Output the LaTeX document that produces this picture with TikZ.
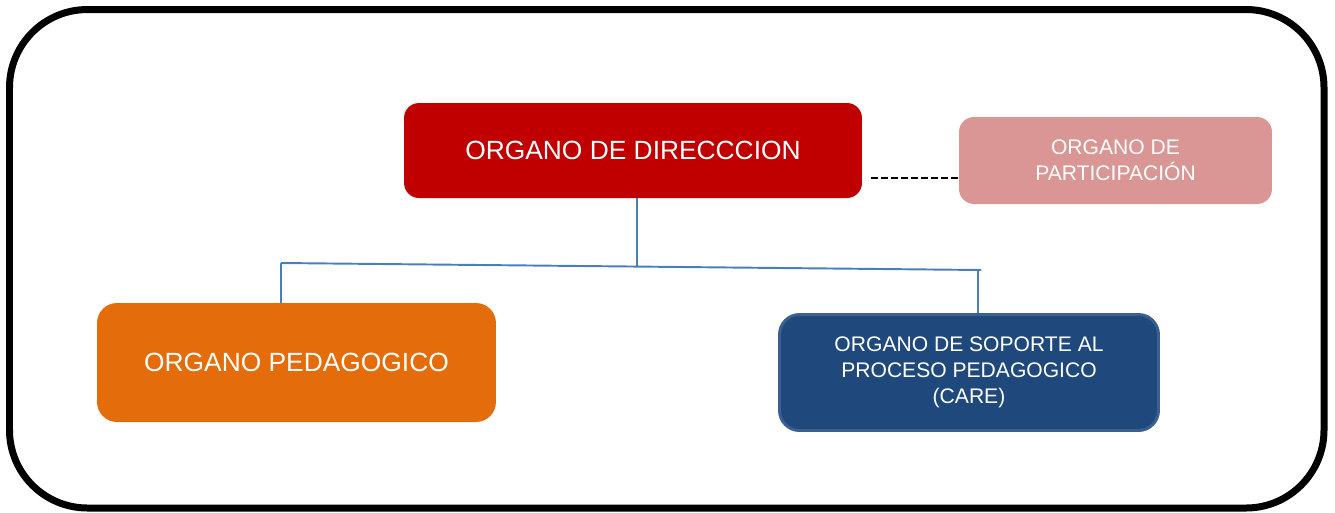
\documentclass[tikz,border=0pt]{standalone}
\usepackage{fontspec}
\setmainfont{Liberation Sans}
\usepackage{xcolor}
\usepackage{tikz}
\usetikzlibrary{positioning}
\definecolor{dirred}{RGB}{192, 0, 0}
\definecolor{partpink}{RGB}{217, 150, 148}
\definecolor{pedorange}{RGB}{228, 108, 10}
\definecolor{supblue}{RGB}{31, 73, 125}
\definecolor{supedge}{RGB}{59, 95, 143}
\definecolor{linkblue}{RGB}{74, 126, 187}

\begin{document}
\begin{tikzpicture}[x=0.02cm, y=-0.02cm,
    organ/.style={draw=none, text=white, align=center, inner sep=0pt},
    bigtext/.style={font=\fontsize{15}{18}\selectfont},
    smalltext/.style={font=\fontsize{12}{14.8}\selectfont},
    link/.style={draw=linkblue, line width=1.1pt}]
            \useasboundingbox (0,0) rectangle (1335,512);
            % Outer frame
            \draw[line width=0.14cm, rounded corners=1.56cm] (9.5,9.5) rectangle (1324,508);
            
            % Boxes
            \node[organ, bigtext, fill=dirred, rounded corners=0.3cm,
                  minimum width=9.16cm, minimum height=1.9cm] (dir) at (633,150.5) {ORGANO DE DIRECCCION};
            \node[organ, smalltext, fill=partpink, rounded corners=0.3cm,
                  minimum width=6.26cm, minimum height=1.74cm] (part) at (1115.5,160.5) {ORGANO DE\\PARTICIPACIÓN};
            \node[organ, bigtext, fill=pedorange, rounded corners=0.4cm,
                  minimum width=7.98cm, minimum height=2.38cm] (ped) at (296.5,362.5) {ORGANO PEDAGOGICO};
            \node[organ, smalltext, fill=supblue, draw=supedge, line width=1.7pt, rounded corners=0.4cm,
                  minimum width=7.58cm, minimum height=2.32cm] (sup) at (969,372.5) {ORGANO DE SOPORTE AL\\PROCESO PEDAGOGICO\\(CARE)};
            
            % Connectors
            \coordinate (jl) at (281,263);
            \coordinate (jm) at (637,266.5);
            \coordinate (jr) at (981,270);
            \coordinate (jrd) at (978,270);
            \draw[link] (dir.south -| jm) -- (jm);
            \draw[link] (jl) -- (jr);
            \draw[link] (jl) -- (jl |- ped.north);
            \draw[link] (jrd) -- (jrd |- sup.north);
            
            % Dashed link
            \coordinate (dl) at (871,178);
            \draw[line width=1pt, dash pattern=on 4pt off 1.7pt] (dl) -- (dl -| part.west);
        \end{tikzpicture}
\end{document}
